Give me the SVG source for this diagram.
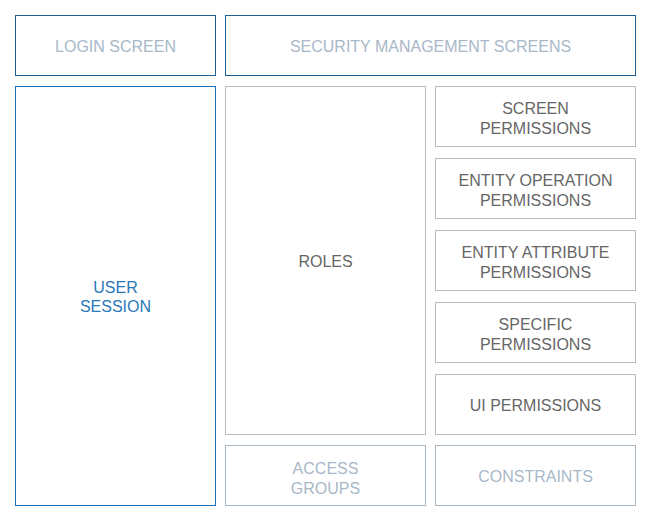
<svg xmlns="http://www.w3.org/2000/svg" width="651" height="521" viewBox="0 0 651 521">
<style>
rect{fill:#fff;stroke-width:1}
text{font-family:"Liberation Sans",Arial,sans-serif;font-size:16px;text-anchor:middle}
.top rect{stroke:#1a5f96}
.top text{fill:#a8b8c8}
.sess rect{stroke:#1a70b8}
.sess text{fill:#2a78b8}
.perm rect{stroke:#bcbcbc}
.perm text{fill:#666}
.lite rect{stroke:#a8b6c2}
.lite text{fill:#a8b8c8}
</style>
<rect x="0" y="0" width="651" height="521" style="fill:#fff;stroke:none"/>
<g id="login" class="top"><rect x="15.5" y="15.5" width="200" height="60"/><text x="115.5" y="51.5">LOGIN SCREEN</text></g>
<g id="security" class="top"><rect x="225.5" y="15.5" width="410" height="60"/><text x="430.5" y="51.5">SECURITY MANAGEMENT SCREENS</text></g>
<g id="session" class="sess"><rect x="15.5" y="86.5" width="200" height="419"/><text x="115.5" y="293">USER</text><text x="115.5" y="312">SESSION</text></g>
<g id="roles" class="perm"><rect x="225.5" y="86.5" width="200" height="348"/><text x="325.5" y="266.5">ROLES</text></g>
<g id="screen" class="perm"><rect x="435.5" y="86.5" width="200" height="60"/><text x="535.5" y="113.5">SCREEN</text><text x="535.5" y="133.5">PERMISSIONS</text></g>
<g id="entityop" class="perm"><rect x="435.5" y="158.5" width="200" height="60"/><text x="535.5" y="185.5">ENTITY OPERATION</text><text x="535.5" y="205.5">PERMISSIONS</text></g>
<g id="entityattr" class="perm"><rect x="435.5" y="230.5" width="200" height="60"/><text x="535.5" y="257.5">ENTITY ATTRIBUTE</text><text x="535.5" y="277.5">PERMISSIONS</text></g>
<g id="specific" class="perm"><rect x="435.5" y="302.5" width="200" height="60"/><text x="535.5" y="329.5">SPECIFIC</text><text x="535.5" y="349.5">PERMISSIONS</text></g>
<g id="ui" class="perm"><rect x="435.5" y="374.5" width="200" height="60"/><text x="535.5" y="410.5">UI PERMISSIONS</text></g>
<g id="access" class="lite"><rect x="225.5" y="445.5" width="200" height="60"/><text x="325.5" y="473.5">ACCESS</text><text x="325.5" y="493.5">GROUPS</text></g>
<g id="constraints" class="lite"><rect x="435.5" y="445.5" width="200" height="60"/><text x="535.5" y="481.5">CONSTRAINTS</text></g>
<g id="connectors"></g>
</svg>
